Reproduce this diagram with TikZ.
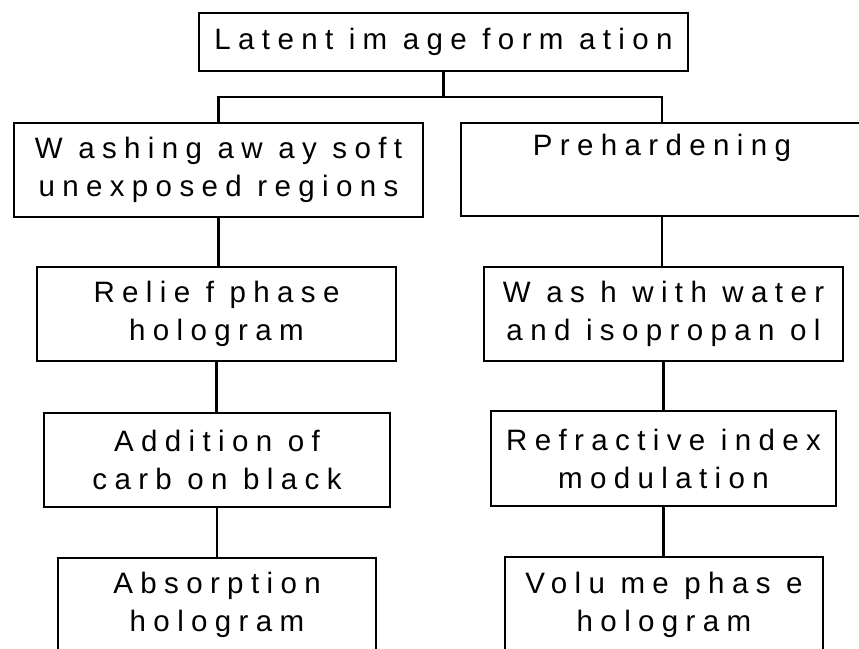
\documentclass[tikz,border=0pt]{standalone}
\usepackage{fontspec}
\setmainfont{Liberation Sans}[LetterSpace=25]
\begin{document}
\begin{tikzpicture}[x=1pt,y=-1pt,
  box/.style={draw,line width=2.2pt,rectangle,inner sep=0pt,align=center,
    font=\fontsize{29.5}{38}\selectfont},
  link/.style={line width=2.2pt}]
\useasboundingbox (0,0) rectangle (859,648);
\clip (0,0) rectangle (859,648);
\node[box,minimum width=489pt,minimum height=58pt] (top) at (443.5,42) {Latent im age form ation};
\node[box,minimum width=409pt,minimum height=94pt] (l1) at (218.5,170) {W ashing aw ay soft\\unexposed regions};
\node[box,minimum width=402pt,minimum height=93pt] (r1) at (662,169.5) {Prehardening\\\strut};
\node[box,minimum width=359pt,minimum height=94pt] (l2) at (216.5,314) {Relie f phase\\hologram};
\node[box,minimum width=359pt,minimum height=94pt] (r2) at (663.5,314) {W as h with water\\and isopropan ol};
\node[box,minimum width=346pt,minimum height=94pt] (l3) at (217,460) {Addition of\\carb on black};
\node[box,minimum width=345pt,minimum height=95pt] (r3) at (663.5,458.5) {Refractive index\\modulation};
\node[box,minimum width=318pt,minimum height=94pt] (l4) at (217,605) {Absorption\\hologram};
\node[box,minimum width=318pt,minimum height=95pt] (r4) at (664,604.5) {Volu me phas e\\hologram};
\coordinate (j) at (443.5,97);
\draw[link] (top.south) -- (j);
\draw[link] (l1.north) |- (j) -| (r1.north);
\draw[link] (l1.south) -- (l1.south |- l2.north);
\draw[link] (l2.south) -- (l2.south |- l3.north);
\draw[link] (l3.south) -- (l3.south |- l4.north);
\draw[link] (r1.south) -- (r1.south |- r2.north);
\draw[link] (r2.south) -- (r2.south |- r3.north);
\draw[link] (r3.south) -- (r3.south |- r4.north);
\end{tikzpicture}
\end{document}
